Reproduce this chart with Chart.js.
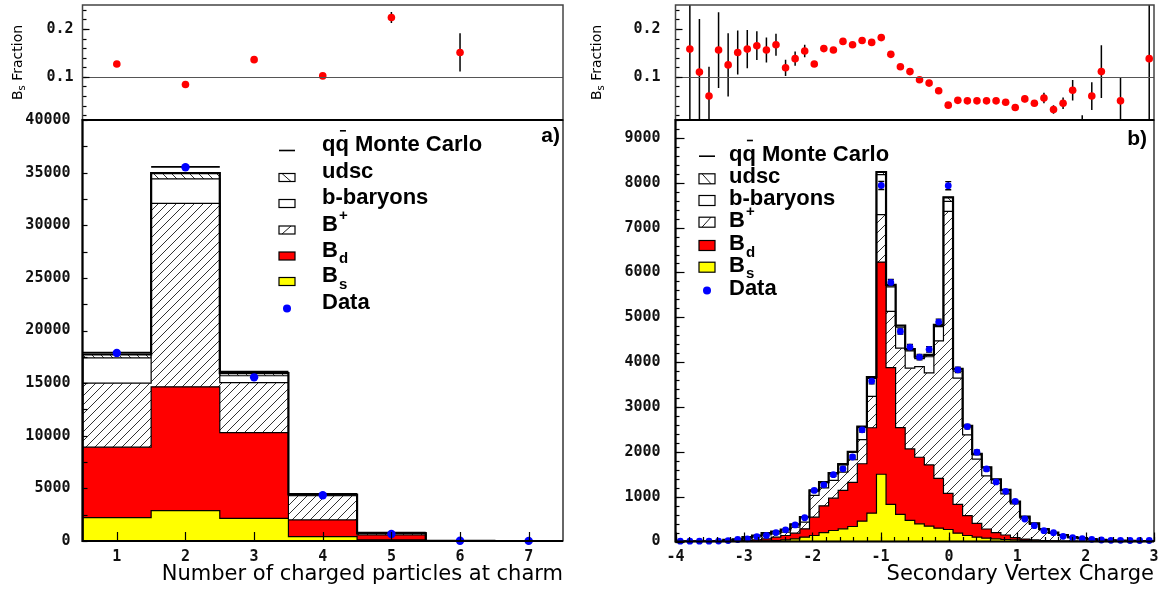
<!DOCTYPE html>
<html>
<head>
<meta charset="utf-8">
<script src="https://cdn.jsdelivr.net/npm/chart.js@4.4.1/dist/chart.umd.min.js"></script>
<style>
  body { margin: 0; background: #fff; }
  #wrap { position: relative; width: 1158px; height: 590px; overflow: hidden; }
  canvas { position: absolute; }
</style>
</head>
<body>
<div id="wrap">
  <canvas id="fracL" width="580" height="125" style="left:0;top:0"></canvas>
  <canvas id="fracR" width="578" height="125" style="left:580px;top:0"></canvas>
  <canvas id="histL" width="580" height="480" style="left:0;top:110px"></canvas>
  <canvas id="histR" width="578" height="480" style="left:580px;top:110px"></canvas>
</div>
<script>
// ---- panel a) number of charged particles at charm ----
const nchBins    = [1, 2, 3, 4, 5, 6, 7];
const nchBs      = [2220, 2885, 2155, 410, 100, 0, 0];
const nchBd      = [6690, 11765, 8145, 1590, 470, 5, 0];
const nchBplus   = [6090, 17430, 4740, 2300, 110, 5, 0];
const nchBaryons = [2390, 2320, 660, 50, 40, 2, 0];
const nchUdsc    = [330, 550, 250, 70, 40, 3, 2];
const nchMC      = [17890, 35540, 16100, 4470, 790, 20, 3];
const nchData    = [17870, 35510, 15550, 4340, 665, 30, 10];
const nchFrac    = [0.127, 0.084, 0.136, 0.102, 0.224, 0.151, null];
const nchFracErr = [0.002, 0.002, 0.003, 0.003, 0.0115, 0.04, null];
const nchYTicks  = [0, 5000, 10000, 15000, 20000, 25000, 30000, 35000, 40000];

// ---- panel b) secondary vertex charge, 50 bins of 0.14 from -4 to 3 ----
const chgLo = -4, chgWidth = 0.14;
const chgBs = [0,0,0,0,0,2,3,5,7,15, 22,37,60,97,134,200,245,283,335,454,
  632,1500,826,603,469,394,342,298,268,186, 134,97,74,60,45,37,25,15,10,7,
  5,3,2,1,1,0,0,0,0,0];
const chgBd = [0,0,0,0,2,3,7,17,30,45, 75,97,126,186,409,596,722,855,982,1280,
  1905,4732,3051,1937,1596,1485,1366,1112,807,644, 443,309,205,137,100,48,30,20,12,8,
  5,4,3,2,1,1,1,0,0,0];
const chgBplus = [3,3,3,4,3,15,20,38,63,89, 74,74,134,149,484,402,395,410,506,536,
  700,1056,1253,1772,1801,2021,2052,3065,6287,2813, 1800,1429,1183,1102,915,755,465,345,238,165,
  120,81,61,43,30,21,16,13,8,6];
const chgBaryons = [1,1,1,1,2,10,15,30,28,31, 45,54,52,103,98,112,148,162,162,270,
  403,892,550,468,384,180,360,315,223,157, 173,95,178,76,80,40,28,20,15,14,
  13,7,6,4,4,2,2,1,1,1];
const chgUdsc = [1,1,1,1,1,5,5,7,6,6, 7,6,8,8,13,14,15,16,16,20,
  28,60,45,37,40,45,43,43,90,50, 28,23,16,13,10,9,6,6,4,3,
  2,2,2,2,1,1,1,1,1,1];
const chgData = [8,8,8,8,10,20,45,60,110,135, 200,260,370,530,1140,1265,1490,1620,1885,2490,
  3577,7940,5777,4683,4335,4112,4285,4893,7935,3828, 2562,1991,1618,1328,1120,897,502,353,241,196,
  116,85,63,49,33,27,27,22,22,22];
const chgDataErr = [0,0,0,0,0,0,0,0,0,0, 0,0,0,0,30,35,35,40,40,50,
  60,90,70,60,60,60,60,65,90,60, 50,45,40,35,35,30,0,0,0,0,
  0,0,0,0,0,0,0,0,0,0];
// Bs fraction, bins 2..50
const chgFrac = [0.158,0.110,0.060,0.156,0.125,0.151,0.158,0.165,0.156,0.167,
  0.119,0.138,0.154,0.127,0.159,0.156,0.174,0.167,0.176,0.172,
  0.182,0.147,0.121,0.111,0.094,0.087,0.071,0.041,0.051,0.050,
  0.050,0.050,0.050,0.047,0.036,0.054,0.045,0.056,0.032,0.045,
  0.072,0.0,0.060,0.111,null,0.050,null,null,0.138];
const chgFracErr = [0.15,0.111,0.061,0.079,0.066,0.046,0.040,0.030,0.026,0.023,
  0.017,0.015,0.013,0.006,0.004,0.004,0.004,0.004,0.004,0.004,
  0.004,0.004,0.004,0.004,0.004,0.004,0.004,0.004,0.004,0.004,
  0.004,0.004,0.004,0.004,0.004,0.007,0.004,0.011,0.009,0.012,
  0.0215,0.02,0.029,0.055,null,0.05,null,null,0.15];
const chgXTicks = [-4, -3, -2, -1, 0, 1, 2, 3];
const chgYTicks = [0, 1000, 2000, 3000, 4000, 5000, 6000, 7000, 8000, 9000];
const fracTicks = [0.1, 0.2];

// ---------------------------------------------------------------
const tickFont = { family: '"DejaVu Sans Mono"', size: 15, weight: 'bold' };
const legFont = '"Liberation Sans", Arial, sans-serif';

function range(lo, hi, step) {
  const out = [];
  for (let v = lo; v <= hi + step / 1000; v += step) out.push(+v.toFixed(4));
  return out;
}
function cumulate(layers) {
  const out = [];
  let run = layers[0].map(() => 0);
  layers.forEach(l => { run = run.map((r, i) => r + l[i]); out.push(run); });
  return out;
}
function stepPoints(edges, tops) {
  const pts = [{ x: edges[0], y: 0 }];
  tops.forEach((v, i) => pts.push({ x: edges[i], y: v }, { x: edges[i + 1], y: v }));
  pts.push({ x: edges[edges.length - 1], y: 0 });
  return pts;
}
function segPoints(edges, vals) {
  const pts = [];
  vals.forEach((v, i) => pts.push({ x: edges[i], y: v }, { x: edges[i + 1], y: v }, { x: edges[i + 1], y: null }));
  return pts;
}
function hatch(ctx, dir, gap) {
  const c = document.createElement('canvas');
  c.width = c.height = gap;
  const g = c.getContext('2d');
  g.fillStyle = '#fff'; g.fillRect(0, 0, gap, gap);
  g.strokeStyle = '#333'; g.lineWidth = 1;
  g.beginPath();
  for (const o of [-gap, 0, gap]) {
    if (dir > 0) { g.moveTo(o, gap); g.lineTo(o + gap, 0); }
    else { g.moveTo(o, 0); g.lineTo(o + gap, gap); }
  }
  g.stroke();
  return ctx.createPattern(c, 'repeat');
}

// text with sub/superscripts
function richText(ctx, parts, x, y, size) {
  parts.forEach(([t, kind]) => {
    if (kind === 'sup') { ctx.font = 'bold ' + Math.round(size * 0.68) + 'px ' + legFont; ctx.fillText(t, x + 1, y - size * 0.48); x += ctx.measureText(t).width + 1; }
    else if (kind === 'sub') { ctx.font = 'bold ' + Math.round(size * 0.68) + 'px ' + legFont; ctx.fillText(t, x + 1, y + size * 0.3); x += ctx.measureText(t).width + 1; }
    else { ctx.font = 'bold ' + size + 'px ' + legFont; ctx.fillText(t, x, y); x += ctx.measureText(t).width; }
  });
  return x;
}

const legendRows = [
  { sym: 'line', parts: [['qq Monte Carlo']], overline: true },
  { sym: 'udsc', parts: [['udsc']] },
  { sym: 'bar', parts: [['b-baryons']] },
  { sym: 'bplus', parts: [['B'], ['+', 'sup']] },
  { sym: 'bd', parts: [['B'], ['d', 'sub']] },
  { sym: 'bs', parts: [['B'], ['s', 'sub']] },
  { sym: 'dot', parts: [['Data']] }
];

function drawLegend(ctx, L) {
  ctx.save();
  ctx.fillStyle = '#000'; ctx.strokeStyle = '#000';
  ctx.textBaseline = 'alphabetic'; ctx.textAlign = 'left';
  legendRows.forEach((r, i) => {
    const b = L.baselines[i], yc = b + L.symDy, x = L.symX, w = 16, h = L.boxH;
    if (r.sym === 'line') {
      ctx.lineWidth = 1.6; ctx.beginPath(); ctx.moveTo(x, yc); ctx.lineTo(x + w, yc); ctx.stroke();
    } else if (r.sym === 'dot') {
      ctx.fillStyle = '#0000ff'; ctx.beginPath(); ctx.arc(x + w / 2, yc, 4, 0, Math.PI * 2); ctx.fill(); ctx.fillStyle = '#000';
    } else {
      const fill = { udsc: '#fff', bar: '#fff', bplus: '#fff', bd: '#ff0000', bs: '#ffff00' }[r.sym];
      ctx.fillStyle = fill; ctx.fillRect(x, yc - h / 2, w, h);
      ctx.lineWidth = 1.2; ctx.strokeRect(x, yc - h / 2, w, h);
      if (r.sym === 'udsc' || r.sym === 'bplus') {
        ctx.lineWidth = 0.9; ctx.beginPath();
        if (r.sym === 'udsc') { ctx.moveTo(x + 3, yc - h / 2); ctx.lineTo(x + 12, yc + h / 2); }
        else { ctx.moveTo(x + 3, yc + h / 2); ctx.lineTo(x + 12, yc - h / 2); }
        ctx.stroke();
      }
      ctx.fillStyle = '#000';
    }
    richText(ctx, r.parts, L.textX, b, 22);
    if (r.overline) {
      ctx.font = 'bold 22px ' + legFont;
      const q = ctx.measureText('q').width;
      ctx.fillRect(L.textX + q + 4.5, b - 21, 6, 1.6);
    }
  });
  ctx.font = 'bold 21px ' + legFont; ctx.textAlign = 'right';
  ctx.fillText(L.tag, L.tagX, L.tagY);
  ctx.restore();
}

const pawPlugin = {
  id: 'paw',
  // pin the plotting frame to the reference layout
  afterLayout(chart, args, o) {
    if (!o.area) return;
    const A = o.area, ca = chart.chartArea, x = chart.scales.x, y = chart.scales.y;
    Object.assign(ca, { left: A.left, top: A.top, right: A.right, bottom: A.bottom, width: A.right - A.left, height: A.bottom - A.top });
    Object.assign(x, { left: A.left, right: A.right, width: A.right - A.left, top: A.bottom, bottom: chart.height, height: chart.height - A.bottom });
    Object.assign(y, { left: 0, right: A.left, width: A.left, top: A.top, bottom: A.bottom, height: A.bottom - A.top });
    x.configure(); y.configure();
  },
  beforeDatasetDraw(chart, args, o) {
    if (!o.errors || args.index !== o.errors.dataset) return;
    const ctx = chart.ctx, a = chart.chartArea, xs = chart.scales.x, ys = chart.scales.y;
    const ds = chart.data.datasets[args.index];
    ctx.save();
    ctx.beginPath(); ctx.rect(a.left, a.top, a.right - a.left, a.bottom - a.top); ctx.clip();
    ctx.strokeStyle = '#000'; ctx.lineWidth = o.errors.width;
    ds.data.forEach((pt, j) => {
      const err = o.errors.err[j];
      if (pt.y === null || !err) return;
      const px = xs.getPixelForValue(pt.x);
      const lo = ys.getPixelForValue(pt.y - err), hi = ys.getPixelForValue(pt.y + err);
      ctx.beginPath(); ctx.moveTo(px, lo); ctx.lineTo(px, hi);
      if (o.errors.cap) {
        ctx.moveTo(px - o.errors.cap, lo); ctx.lineTo(px + o.errors.cap, lo);
        ctx.moveTo(px - o.errors.cap, hi); ctx.lineTo(px + o.errors.cap, hi);
      }
      ctx.stroke();
    });
    ctx.restore();
  },
  afterDatasetsDraw(chart, args, o) {
    const ctx = chart.ctx, a = chart.chartArea, xs = chart.scales.x, ys = chart.scales.y;
    ctx.save();
    if (o.refLine !== undefined) {
      const p = Math.round(ys.getPixelForValue(o.refLine)) + 0.5;
      ctx.strokeStyle = '#555'; ctx.lineWidth = 1;
      ctx.beginPath(); ctx.moveTo(a.left, p); ctx.lineTo(a.right, p); ctx.stroke();
    }
    // inward tick marks
    ctx.strokeStyle = '#000'; ctx.lineWidth = 1.2;
    const ty = (v, len) => { const p = Math.round(ys.getPixelForValue(v)) + 0.5; ctx.beginPath(); ctx.moveTo(a.left, p); ctx.lineTo(a.left + len, p); ctx.stroke(); };
    const tx = (v, len) => { const p = Math.round(xs.getPixelForValue(v)) + 0.5; ctx.beginPath(); ctx.moveTo(p, a.bottom); ctx.lineTo(p, a.bottom - len); ctx.stroke(); };
    (o.yMinor || []).forEach(v => ty(v, o.len[1]));
    (o.yMajor || []).forEach(v => ty(v, o.len[0]));
    (o.xMinor || []).forEach(v => tx(v, o.len[3]));
    (o.xMajor || []).forEach(v => tx(v, o.len[2]));
    // frame
    ctx.strokeStyle = o.frameColor || '#000'; ctx.lineWidth = o.frameWidth || 2;
    ctx.strokeRect(a.left, a.top, a.right - a.left, a.bottom - a.top);
    if (o.axisWidth) {
      ctx.strokeStyle = '#000'; ctx.lineWidth = o.axisWidth;
      ctx.beginPath(); ctx.moveTo(a.right, a.top); ctx.lineTo(a.left, a.top); ctx.lineTo(a.left, a.bottom); ctx.lineTo(a.right, a.bottom); ctx.stroke();
    }
    // axis titles
    ctx.fillStyle = '#000';
    if (o.xTitle) {
      ctx.font = '21px "DejaVu Sans"'; ctx.textAlign = 'right'; ctx.textBaseline = 'alphabetic';
      ctx.fillText(o.xTitle, a.right, o.xTitleY);
    }
    if (o.yTitle) {
      ctx.translate(o.yTitle.x, (a.top + a.bottom) / 2);
      ctx.rotate(-Math.PI / 2);
      ctx.textBaseline = 'middle'; ctx.textAlign = 'left';
      ctx.font = '14px "DejaVu Sans"';
      const wB = ctx.measureText('B').width, wR = ctx.measureText(' Fraction').width;
      ctx.font = '10px "DejaVu Sans"';
      const wS = ctx.measureText('s').width;
      const x0 = -(wB + wS + wR) / 2;
      ctx.font = '14px "DejaVu Sans"'; ctx.fillText('B', x0, 0);
      ctx.font = '10px "DejaVu Sans"'; ctx.fillText('s', x0 + wB, 4);
      ctx.font = '14px "DejaVu Sans"'; ctx.fillText(' Fraction', x0 + wB + wS, 0);
      ctx.setTransform(1, 0, 0, 1, 0, 0);
    }
    ctx.restore();
    if (o.legend) drawLegend(ctx, o.legend);
  }
};
Chart.register(pawPlugin);
Chart.defaults.font.family = '"DejaVu Sans Mono"';
Chart.defaults.color = '#111';

function axisX(min, max, ticks, show) {
  return {
    type: 'linear', min, max, display: show,
    grid: { display: false, drawTicks: false }, border: { display: false },
    ticks: { font: tickFont, color: '#111', padding: 7, autoSkip: false, maxRotation: 0, callback: v => String(v) },
    afterBuildTicks: s => { s.ticks = ticks.map(v => ({ value: v })); }
  };
}
function axisY(min, max, ticks, pad, fmt) {
  return {
    type: 'linear', min, max,
    grid: { display: false, drawTicks: false }, border: { display: false },
    ticks: { font: tickFont, color: '#111', padding: pad, autoSkip: false, callback: fmt || (v => String(v)) },
    afterBuildTicks: s => { s.ticks = ticks.map(v => ({ value: v })); }
  };
}

function histChart(id, c) {
  const ctx = document.getElementById(id).getContext('2d');
  const hA = hatch(ctx, 1, c.gap), hB = hatch(ctx, -1, c.gap);
  const [cBs, cBd, cBp, cBar, cUd] = cumulate([c.bs, c.bd, c.bp, c.bar, c.ud]);
  const layer = (tops, bg) => ({ data: stepPoints(c.edges, tops), backgroundColor: bg, fill: 'origin',
    borderColor: '#000', borderWidth: 1.2, pointRadius: 0, tension: 0 });
  const datasets = [
    { data: c.centers.map((x, i) => ({ x, y: c.data[i] })), showLine: false, pointRadius: c.dotR,
      pointBackgroundColor: '#0000ff', pointBorderWidth: 0, clip: 8 },
    { data: stepPoints(c.edges, cUd), fill: false, borderColor: '#000', borderWidth: 2.2, pointRadius: 0 }
  ];
  if (c.mc) datasets.push({ data: segPoints(c.edges, c.mc), fill: false, borderColor: '#000', borderWidth: 1.8, pointRadius: 0, spanGaps: false });
  datasets.push(layer(cBs, '#ffff00'), layer(cBd, '#ff0000'), layer(cBp, hA), layer(cBar, '#ffffff'), layer(cUd, hB));
  return new Chart(ctx, {
    type: 'line',
    data: { datasets },
    options: {
      responsive: false, animation: false, events: [],
      plugins: { legend: { display: false }, tooltip: { enabled: false }, paw: c.paw },
      scales: { x: axisX(c.xmin, c.xmax, c.xTicks, true), y: axisY(0, c.ymax, c.yTicks, c.yPad) }
    }
  });
}

function fracChart(id, xs, vals, errs, c) {
  return new Chart(document.getElementById(id), {
    type: 'line',
    data: { datasets: [{ data: xs.map((x, i) => ({ x, y: vals[i] })), showLine: false, pointRadius: 3.8,
      pointBackgroundColor: '#ff0000', pointBorderWidth: 0, clip: 0 }] },
    options: {
      responsive: false, animation: false, events: [],
      plugins: { legend: { display: false }, tooltip: { enabled: false },
        paw: { area: c.area, refLine: 0.1, errors: { dataset: 0, err: errs, width: 1.5 },
          yMajor: fracTicks, yMinor: range(0.02, 0.24, 0.02), len: [7, 4, 0, 0],
          frameColor: '#444', frameWidth: 1.5, yTitle: { x: c.titleX } } },
      scales: { x: axisX(c.xmin, c.xmax, [], false), y: axisY(0.01, 0.25, fracTicks, c.yPad, v => v.toFixed(1)) }
    }
  });
}

// ---- panel a ----
const nchEdges = nchBins.map(b => b - 0.5).concat([nchBins[nchBins.length - 1] + 0.5]);
fracChart('fracL', nchBins, nchFrac, nchFracErr, { xmin: 0.5, xmax: 7.5, yPad: 9, titleX: 18,
  area: { left: 82.5, top: 5, right: 563, bottom: 120 } });
histChart('histL', {
  edges: nchEdges, centers: nchBins, bs: nchBs, bd: nchBd, bp: nchBplus, bar: nchBaryons, ud: nchUdsc,
  mc: nchMC, data: nchData, dotR: 4.2, gap: 9, xmin: 0.5, xmax: 7.5, xTicks: nchBins, ymax: 40000,
  yTicks: nchYTicks, yPad: 12,
  paw: { area: { left: 82.5, top: 10, right: 563, bottom: 431 },
    yMajor: nchYTicks, yMinor: range(2500, 37500, 5000), xMajor: nchBins, len: [5, 5, 9, 0],
    frameWidth: 1.2, axisWidth: 2.2, xTitle: 'Number of charged particles at charm', xTitleY: 470,
    legend: { symX: 279, textX: 322, symDy: -0.5, boxH: 8, baselines: [41, 68, 94, 120.5, 146.5, 172, 199], tag: 'a)', tagX: 560, tagY: 32 } }
});

// ---- panel b ----
const chgEdges = chgData.map((d, i) => +(chgLo + i * chgWidth).toFixed(2)).concat([+(chgLo + chgData.length * chgWidth).toFixed(2)]);
const chgCenters = chgData.map((d, i) => +(chgLo + (i + 0.5) * chgWidth).toFixed(2));
fracChart('fracR', chgCenters.slice(1), chgFrac, chgFracErr, { xmin: -4, xmax: 3, yPad: 15, titleX: 17,
  area: { left: 95.5, top: 5, right: 574, bottom: 120 } });
histChart('histR', {
  edges: chgEdges, centers: chgCenters, bs: chgBs, bd: chgBd, bp: chgBplus, bar: chgBaryons, ud: chgUdsc,
  mc: null, data: chgData, dotR: 3.4, gap: 10, xmin: -4, xmax: 3, xTicks: chgXTicks, ymax: 9400,
  yTicks: chgYTicks, yPad: 15,
  paw: { area: { left: 95.5, top: 10, right: 574, bottom: 431.5 },
    yMajor: chgYTicks, yMinor: range(0, 9400, 200), xMajor: chgXTicks, xMinor: range(-4, 3, 0.2), len: [9, 4, 9, 4.5],
    errors: { dataset: 0, err: chgDataErr, width: 1.3, cap: 3 },
    frameWidth: 1.2, axisWidth: 2.2, xTitle: 'Secondary Vertex Charge', xTitleY: 470,
    legend: { symX: 119, textX: 149, symDy: -4.5, boxH: 10, baselines: [50.7, 73.3, 95, 116.7, 140, 161.7, 185], tag: 'b)', tagX: 567, tagY: 35 } }
});
</script>
</body>
</html>
